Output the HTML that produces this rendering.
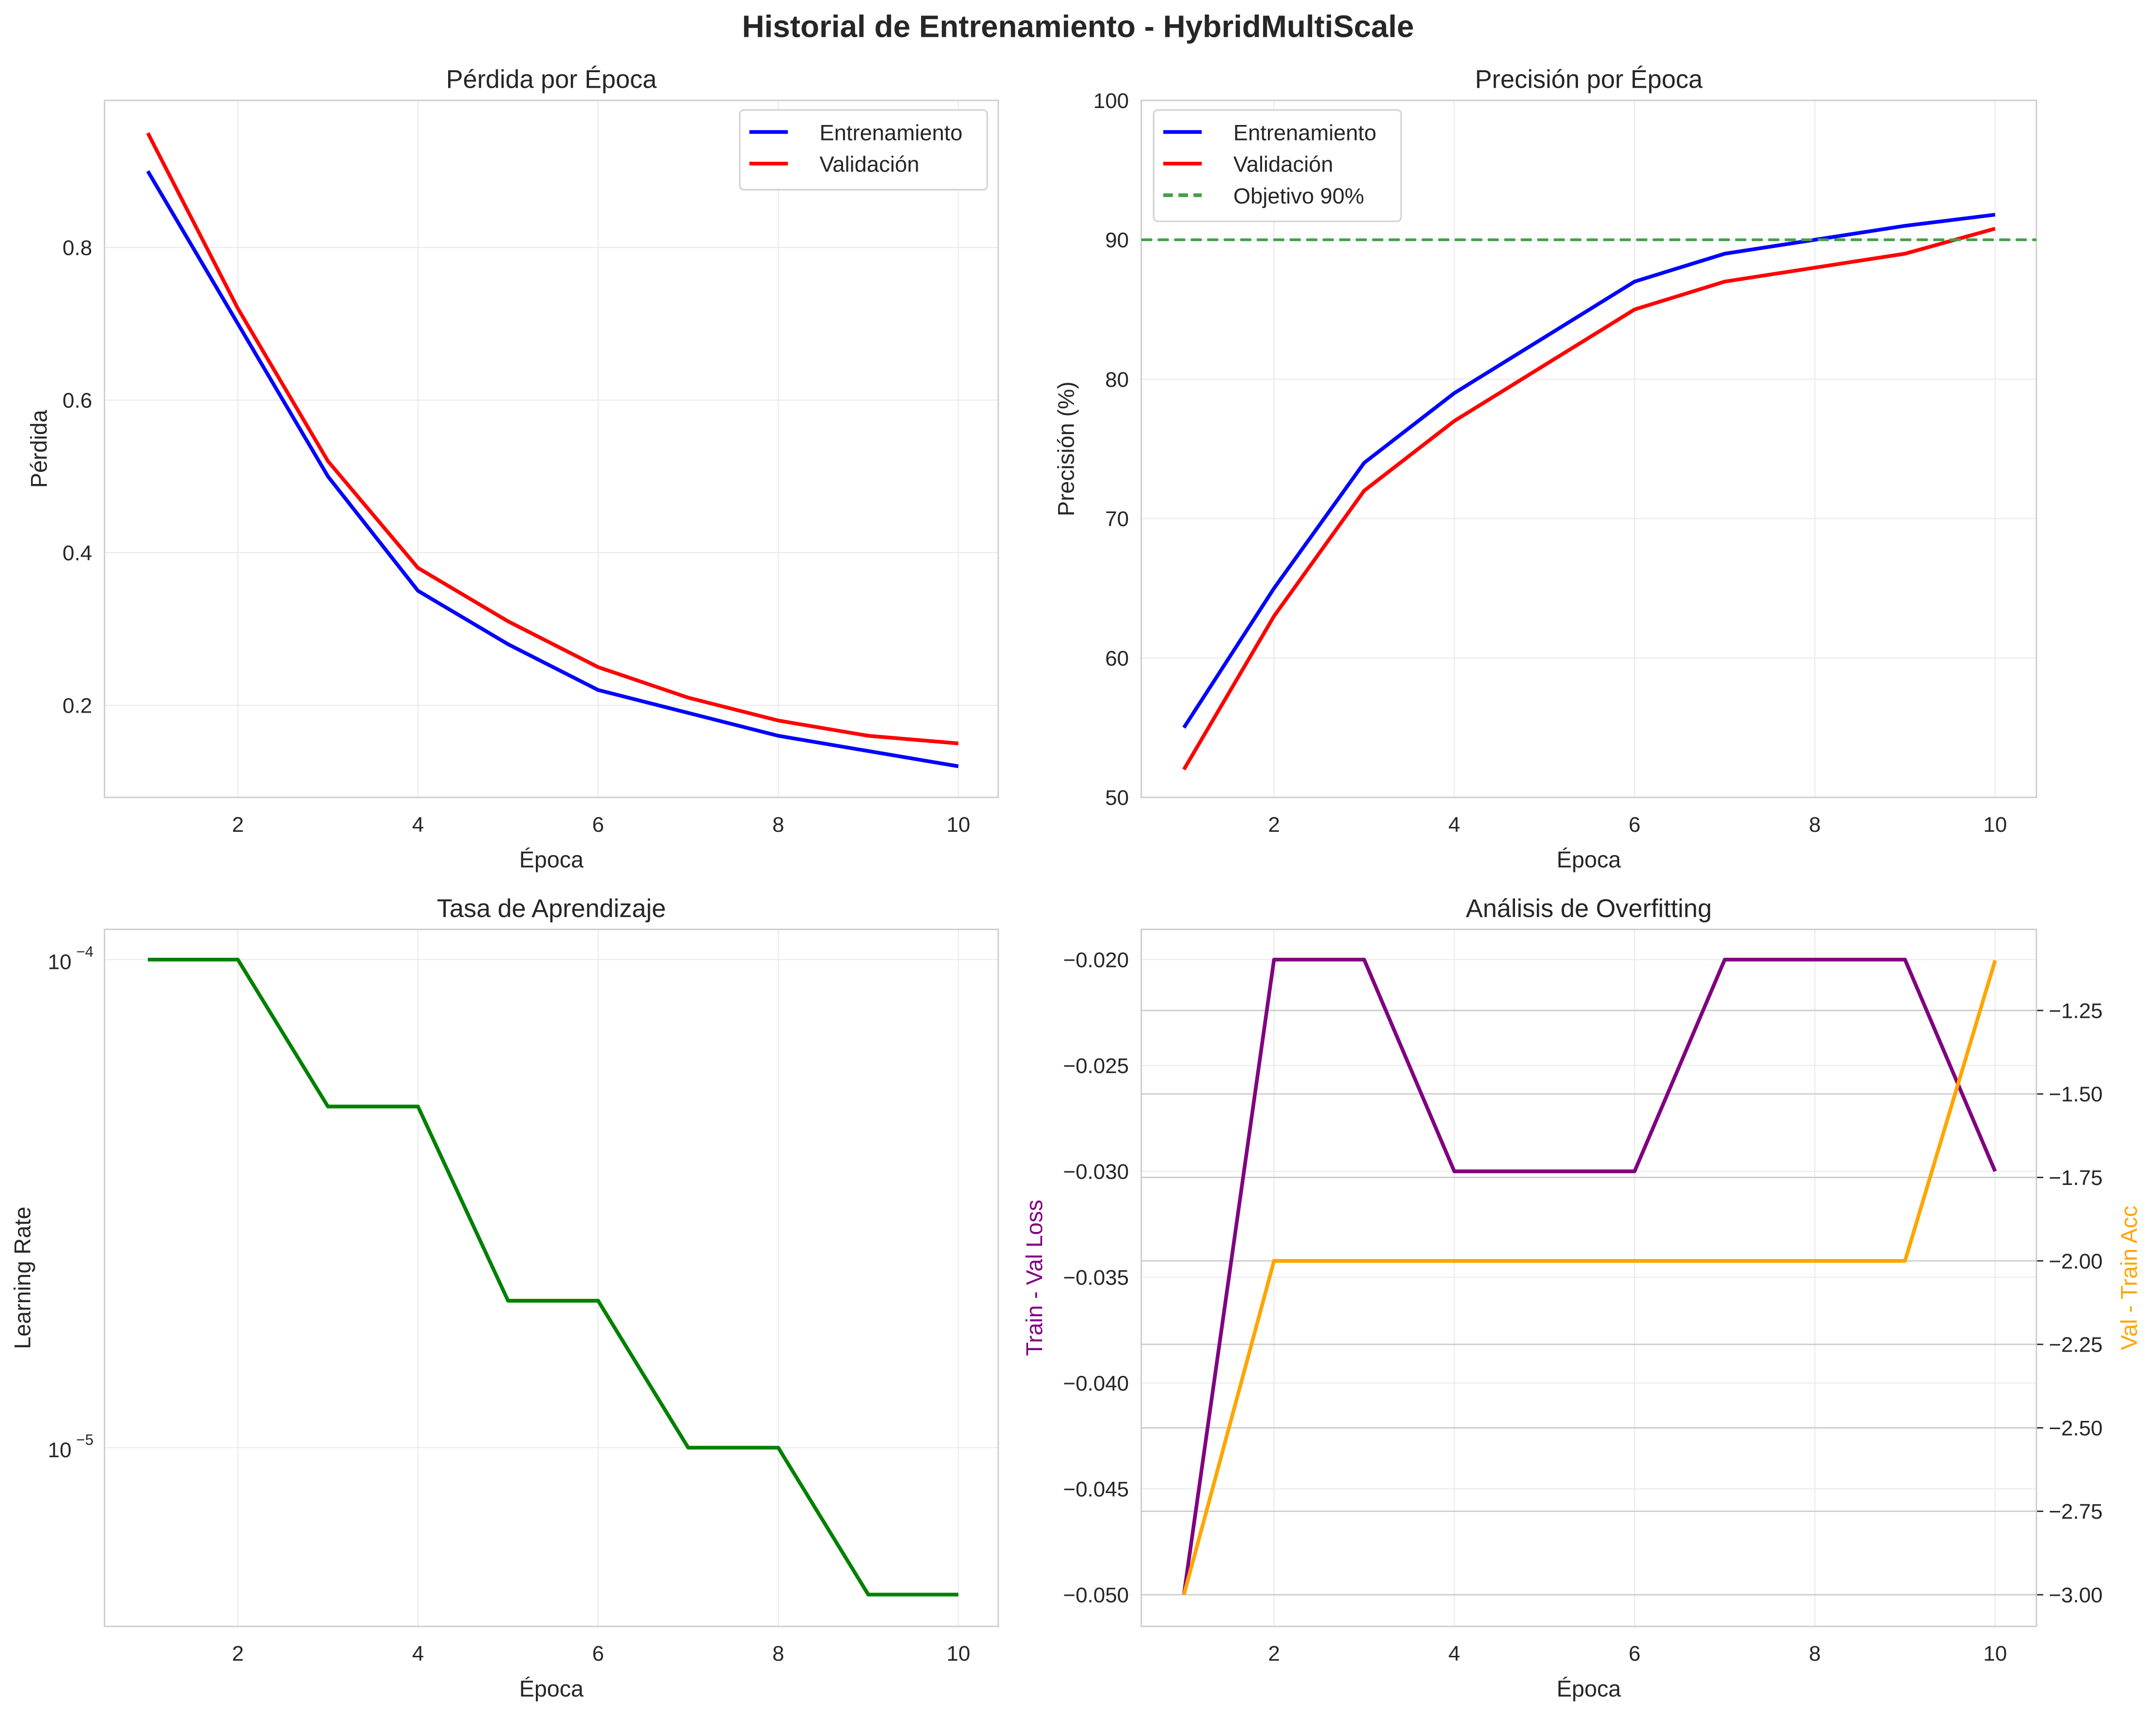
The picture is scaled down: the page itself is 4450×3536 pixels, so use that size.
<!DOCTYPE html>
<html><head><meta charset="utf-8"><style>
html,body{margin:0;padding:0;background:#fff;}
svg{display:block;}
text{font-family:"Liberation Sans",sans-serif;fill:#262626;}
</style></head><body>
<svg id="fig" width="4450" height="3536" viewBox="0 0 1568 1246" preserveAspectRatio="none" xmlns="http://www.w3.org/2000/svg">
<rect width="1568" height="1246" fill="#fff"/>
<text x="784" y="27" text-anchor="middle" font-size="22.5" font-weight="bold">Historial de Entrenamiento - HybridMultiScale</text>
</svg>
<script>
const epochs = [1,2,3,4,5,6,7,8,9,10];
const lossTrain = [0.9,0.7,0.5,0.35,0.28,0.22,0.19,0.16,0.14,0.12];
const lossVal = [0.95,0.72,0.52,0.38,0.31,0.25,0.21,0.18,0.16,0.15];
const accTrain = [55,65,74,79,83,87,89,90,91,91.8];
const accVal = [52,63,72,77,81,85,87,88,89,90.8];
const lrValues = [1e-4,1e-4,5e-5,5e-5,2e-5,2e-5,1e-5,1e-5,5e-6,5e-6];
const lossDiff = [-0.05,-0.02,-0.02,-0.03,-0.03,-0.03,-0.02,-0.02,-0.02,-0.03];
const accDiff = [-3,-2,-2,-2,-2,-2,-2,-2,-2,-1.1];
const xTicks = [2,4,6,8,10];
const lossTicks = [0.2,0.4,0.6,0.8];
const accTicks = [50,60,70,80,90,100];
const lossDiffTicks = [-0.05,-0.045,-0.04,-0.035,-0.03,-0.025,-0.02];
const accDiffTicks = [-3,-2.75,-2.5,-2.25,-2,-1.75,-1.5,-1.25];
const accTarget = 90;

const NS="http://www.w3.org/2000/svg";
const svg=document.getElementById('fig');
function el(tag,attrs,parent){const e=document.createElementNS(NS,tag);for(const k in attrs)e.setAttribute(k,attrs[k]);(parent||svg).appendChild(e);return e;}
function lin(d0,d1,r0,r1){return v=>r0+(v-d0)*(r1-r0)/(d1-d0);}
const TS=15.5, LS=16.5;

function panel(name,L,R,T,B,title){
  const g=el('g',{});
  
  
  const t=el('text',{x:(L+R)/2,y:T-9,'text-anchor':'middle','font-size':18.5},g);t.textContent=title;
  
  
  return g;
}
function frame(g,L,R,T,B){el('rect',{x:L,y:T,width:R-L,height:B-T,fill:'none',stroke:'#cccccc','stroke-width':1},g);}
function xaxis(g,x,L,R,T,B){
  xTicks.forEach(v=>{
    el('line',{x1:x(v),x2:x(v),y1:T,y2:B,stroke:'#ebebeb','stroke-width':0.8},g);
    const t=el('text',{x:x(v),y:B+25,'text-anchor':'middle','font-size':TS},g);t.textContent=v;
    
    
  });
  const lab=el('text',{x:(L+R)/2,y:B+51,'text-anchor':'middle','font-size':LS},g);lab.textContent='Época';
  
  
}
function yticks(g,ticks,y,L,R,fmt,grid){
  ticks.forEach(v=>{
    if(grid)el('line',{x1:L,x2:R,y1:y(v),y2:y(v),stroke:'#ebebeb','stroke-width':0.8},g);
    const t=el('text',{x:L-9,y:y(v)+5.5,'text-anchor':'end','font-size':TS},g);t.textContent=fmt(v);
    
    
  });
}
function ylabel(g,x,y,txt,color){
  const t=el('text',{x:x,y:y,'text-anchor':'middle','font-size':LS,transform:`rotate(-90 ${x} ${y})`},g);t.textContent=txt;
  if(color)t.style.fill=color;
  
  
}
function line(g,xs,ys,x,y,color,name,dash){
  const p=el('polyline',{points:xs.map((v,i)=>x(v)+','+y(ys[i])).join(' '),fill:'none',stroke:color,'stroke-width':2.7,'stroke-linejoin':'round'},g);
  if(dash)p.setAttribute('stroke-dasharray',dash);
  
  
}
function legend(g,x0,y0,w,items){
  const h=items.length*23+12;
  el('rect',{x:x0,y:y0,width:w,height:h,rx:3,fill:'#fff',stroke:'#d5d5d5','stroke-width':1.2},g);
  items.forEach((it,i)=>{
    const yy=y0+16+i*23;
    const l=el('line',{x1:x0+7,x2:x0+35,y1:yy,y2:yy,stroke:it[1],'stroke-width':2.7},g);
    if(it[2])l.setAttribute('stroke-dasharray',it[2]);
    const t=el('text',{x:x0+58,y:yy+6,'font-size':16},g);t.textContent=it[0];
    
    
  });
}
const fmt1=v=>v.toFixed(1), fmt0=v=>String(v);
const neg=s=>s.replace('-','\u2212');

// Panel 1
{const L=76,R=726,T=73,B=580;const g=panel('loss-panel',L,R,T,B,'Pérdida por Época');
 const x=lin(1,10,107.5,697),y=lin(0.8,0.2,180,513);
 xaxis(g,x,L,R,T,B);yticks(g,lossTicks,y,L,R,fmt1,true);frame(g,L,R,T,B);
 line(g,epochs,lossTrain,x,y,'#0000ff','loss-train-line');line(g,epochs,lossVal,x,y,'#ff0000','loss-val-line');
 ylabel(g,34,(T+B)/2,'Pérdida');
 legend(g,538,80,180,[['Entrenamiento','#0000ff'],['Validación','#ff0000']]);}

// Panel 2
{const L=830,R=1481,T=73,B=580;const g=panel('accuracy-panel',L,R,T,B,'Precisión por Época');
 const x=lin(1,10,861,1451),y=lin(100,50,T,B);
 xaxis(g,x,L,R,T,B);yticks(g,accTicks,y,L,R,fmt0,true);frame(g,L,R,T,B);
 line(g,epochs,accTrain,x,y,'#0000ff','acc-train-line');line(g,epochs,accVal,x,y,'#ff0000','acc-val-line');
 const h=el('line',{x1:L,x2:R,y1:y(accTarget),y2:y(accTarget),stroke:'#44a044','stroke-width':2,'stroke-dasharray':'8,4'},g);
 
 
 ylabel(g,781,(T+B)/2,'Precisión (%)');
 legend(g,839,80,180,[['Entrenamiento','#0000ff'],['Validación','#ff0000'],['Objetivo 90%','#44a044','7,4']]);}

// Panel 3
{const L=76,R=726,T=676,B=1183;const g=panel('learning-rate-panel',L,R,T,B,'Tasa de Aprendizaje');
 const x=lin(1,10,107.5,697);const y=v=>698+(-4-Math.log10(v))*355;
 xaxis(g,x,L,R,T,B);
 [1e-4,1e-5].forEach((v,i)=>{el('line',{x1:L,x2:R,y1:y(v),y2:y(v),stroke:'#ebebeb','stroke-width':0.8},g);
   const t=el('text',{x:L-24,y:y(v)+7,'text-anchor':'end','font-size':TS},g);t.textContent='10';
   
   
   const s=el('text',{x:L-8,y:y(v)-2,'text-anchor':'end','font-size':11},g);s.textContent=i?'\u22125':'\u22124';});
 frame(g,L,R,T,B);
 line(g,epochs,lrValues,x,y,'#008000','lr-line');
 ylabel(g,22,(T+B)/2,'Learning Rate');}

// Panel 4
{const L=830,R=1481,T=676,B=1183;const g=panel('overfitting-panel',L,R,T,B,'Análisis de Overfitting');
 const x=lin(1,10,861,1451),y=lin(-0.02,-0.05,698,1160),y2=lin(-1.25,-3,735,1160);
 xaxis(g,x,L,R,T,B);yticks(g,lossDiffTicks,y,L,R,v=>neg(v.toFixed(3)),true);
 accDiffTicks.forEach(v=>{el('line',{x1:L,x2:R,y1:y2(v),y2:y2(v),stroke:'#cccccc','stroke-width':1},g);
   el('line',{x1:R,x2:R+5,y1:y2(v),y2:y2(v),stroke:'#262626','stroke-width':1},g);
   const t=el('text',{x:R+9,y:y2(v)+5.5,'font-size':TS},g);t.textContent=neg(v.toFixed(2));
   
   });
 frame(g,L,R,T,B);
 line(g,epochs,lossDiff,x,y,'#800080','loss-diff-line');line(g,epochs,accDiff,x,y2,'#ffa500','acc-diff-line');
 ylabel(g,758,(T+B)/2,'Train - Val Loss','#800080');
 ylabel(g,1554,(T+B)/2,'Val - Train Acc','#ffa500');}
</script>
</body></html>
